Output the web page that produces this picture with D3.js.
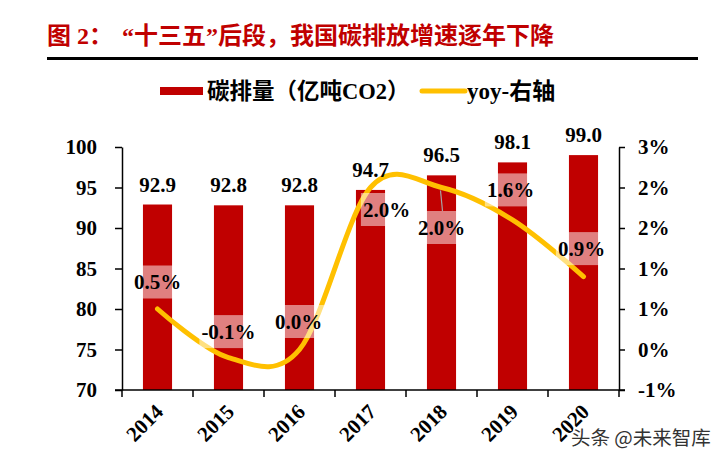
<!DOCTYPE html>
<html>
<head>
<meta charset="utf-8">
<script src="https://cdn.jsdelivr.net/npm/d3@7/dist/d3.min.js"></script>
<style>
  html, body { margin: 0; padding: 0; background: #fff; }
  svg { display: block; }
</style>
</head>
<body>
<svg id="chart" width="716" height="461"></svg>
<script>
// ---- data ----
const years = ["2014", "2015", "2016", "2017", "2018", "2019", "2020"];
const emissions = [92.9, 92.8, 92.8, 94.7, 96.5, 98.1, 99.0];
const yoy = [0.5, -0.1, 0.0, 2.0, 2.0, 1.6, 0.9];
const leftTicks = [70, 75, 80, 85, 90, 95, 100];
const rightTicks = [-0.5, 0, 0.5, 1, 1.5, 2, 2.5];
const titleLead = "图 2：";
const titleMain = "“十三五”后段，我国碳排放增速逐年下降";
const legendBar = "碳排量（亿吨CO2）";
const legendLine = "yoy-右轴";
const watermark = "头条 @未来智库";

// ---- layout / style (not data) ----
const yoyLabelOffsets = [[0, -27], [0, -26], [-1, -28], [16, 22], [0, 40], [-2, -30], [-2, -28]];
const leaderLines = [false, false, false, false, true, false, false];
const LAT = "'Liberation Serif', 'Times New Roman', 'Noto Sans CJK SC', serif";
const RED = "#c00000", GOLD = "#ffc000";

const svg = d3.select("#chart");
const m = { left: 122, right: 619, top: 147, bottom: 390 };

const x = d3.scaleBand().domain(years).range([m.left, m.right])
  .paddingInner(0.59).paddingOuter(0.295);
const yL = d3.scaleLinear().domain([70, 100]).range([m.bottom, m.top]);
const yR = d3.scaleLinear().domain([-0.5, 2.5]).range([m.bottom, m.top]);
const cx = d => x(d) + x.bandwidth() / 2;

// title
const title = svg.append("text").attr("y", 44)
  .attr("font-family", LAT).attr("font-weight", "bold")
  .attr("font-size", 24).attr("fill", RED);
title.append("tspan").attr("x", 47).text(titleLead);
title.append("tspan").attr("x", 122).text(titleMain);
svg.append("line").attr("x1", 47).attr("x2", 698).attr("y1", 58.5).attr("y2", 58.5)
  .attr("stroke", "#000").attr("stroke-width", 3);

// legend
svg.append("rect").attr("x", 160).attr("y", 87).attr("width", 43).attr("height", 8).attr("fill", RED);
svg.append("text").attr("x", 207).attr("y", 99).attr("font-family", LAT)
  .attr("font-weight", "bold").attr("font-size", 22.5).attr("fill", "#000").text(legendBar);
svg.append("line").attr("x1", 422).attr("x2", 465).attr("y1", 91).attr("y2", 91)
  .attr("stroke", GOLD).attr("stroke-width", 5).attr("stroke-linecap", "round");
svg.append("text").attr("x", 467).attr("y", 99).attr("font-family", LAT)
  .attr("font-weight", "bold").attr("font-size", 23).attr("fill", "#000").text(legendLine);

// bars
svg.append("g").selectAll("rect").data(years).join("rect")
  .attr("x", d => x(d)).attr("width", x.bandwidth())
  .attr("y", (d, i) => yL(emissions[i]))
  .attr("height", (d, i) => yL(70) - yL(emissions[i]))
  .attr("fill", RED);

// axes
const axisStyle = g => {
  g.selectAll("path, line").attr("stroke", "#000").attr("stroke-width", 1.5);
  g.selectAll("text").attr("font-family", LAT).attr("font-weight", "bold")
    .attr("font-size", 21).attr("fill", "#000");
};
svg.append("g").attr("transform", `translate(${m.left},0)`)
  .call(d3.axisLeft(yL).tickValues(leftTicks).tickSize(7).tickSizeOuter(0).tickPadding(18))
  .call(axisStyle);
svg.append("g").attr("transform", `translate(${m.right},0)`)
  .call(d3.axisRight(yR).tickValues(rightTicks).tickSize(6).tickSizeOuter(0).tickPadding(13)
    .tickFormat(d => (d < 0 ? "-" : "") + Math.round(Math.abs(d)) + "%"))
  .call(axisStyle);

// x axis line and boundary ticks
const gx = svg.append("g");
gx.append("line").attr("x1", m.left - 7).attr("x2", m.right + 6)
  .attr("y1", m.bottom).attr("y2", m.bottom).attr("stroke", "#000").attr("stroke-width", 1.5);
const gap = (x.step() - x.bandwidth()) / 2;
const bounds = years.map(d => x(d) - gap).concat([x(years[years.length - 1]) - gap + x.step()]);
gx.selectAll("line.tk").data(bounds).join("line").attr("class", "tk")
  .attr("x1", d => d).attr("x2", d => d).attr("y1", m.bottom).attr("y2", m.bottom + 7)
  .attr("stroke", "#000").attr("stroke-width", 1.5);
gx.selectAll("text").data(years).join("text")
  .attr("transform", d => `translate(${cx(d) + 7},${m.bottom + 23}) rotate(-45)`)
  .attr("text-anchor", "end").attr("font-family", LAT).attr("font-weight", "bold")
  .attr("font-size", 21).attr("fill", "#000").text(d => d);

// yoy line
const line = d3.line().x((d, i) => cx(years[i])).y(d => yR(d)).curve(d3.curveCardinal.tension(0));
svg.append("path").datum(yoy).attr("d", line).attr("fill", "none")
  .attr("stroke", GOLD).attr("stroke-width", 5).attr("stroke-linecap", "round");

// yoy labels
const gl = svg.append("g");
yoy.forEach((v, i) => {
  const px = cx(years[i]), py = yR(v);
  const lx = px + yoyLabelOffsets[i][0], ly = py + yoyLabelOffsets[i][1];
  const g = gl.append("g");
  const t = g.append("text").attr("x", lx).attr("y", ly + 7).attr("text-anchor", "middle")
    .attr("font-family", LAT).attr("font-weight", "bold").attr("font-size", 21)
    .attr("fill", "#000").text(v.toFixed(1) + "%");
  const bb = t.node().getBBox();
  g.insert("rect", "text").attr("x", bb.x - 2).attr("width", bb.width + 4)
    .attr("y", ly - 16.5).attr("height", 33).attr("fill", "#fff").attr("fill-opacity", 0.5);
  if (leaderLines[i]) {
    g.insert("line", "rect").attr("x1", px - 1).attr("y1", py + 3).attr("x2", lx + 1).attr("y2", ly - 16.5)
      .attr("stroke", "#a6a6a6").attr("stroke-width", 1.2);
  }
});

// bar value labels
svg.append("g").selectAll("text").data(years).join("text")
  .attr("x", d => cx(d)).attr("y", (d, i) => yL(emissions[i]) - 13)
  .attr("text-anchor", "middle").attr("font-family", LAT).attr("font-weight", "bold")
  .attr("font-size", 21).attr("fill", "#000").text((d, i) => emissions[i].toFixed(1));

// watermark
svg.append("text").attr("x", 571).attr("y", 445)
  .attr("font-family", "'Noto Sans CJK SC', sans-serif").attr("font-size", 19.5)
  .attr("fill", "#333").attr("stroke", "#fff").attr("stroke-width", 3)
  .attr("paint-order", "stroke").attr("stroke-linejoin", "round").text(watermark);
</script>
</body>
</html>
